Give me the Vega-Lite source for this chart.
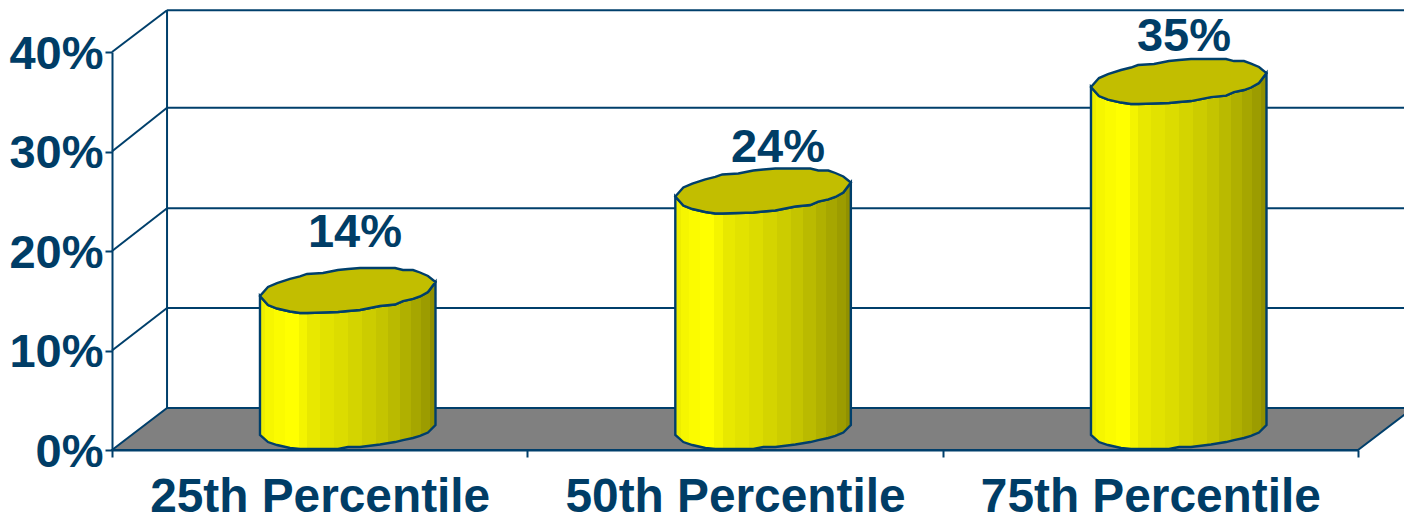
{
  "$schema": "https://vega.github.io/schema/vega-lite/v6.json",
  "width": 1246,
  "height": 398,
  "autosize": "none",
  "padding": {"left": 112, "top": 52, "right": 46, "bottom": 67},
  "background": "white",
  "config": {"view": {"stroke": null}},
  "datasets": {
    "percentiles": [
      {"category": "25th Percentile", "value": 14, "label": "14%", "labelX": 0.585, "labelY": 21.8},
      {"category": "50th Percentile", "value": 24, "label": "24%", "labelX": 1.6035, "labelY": 30.35},
      {"category": "75th Percentile", "value": 35, "label": "35%", "labelX": 2.581, "labelY": 41.5}
    ],
    "floor": [
      {"pos": 0, "back": 0, "front": 0},
      {"pos": 0.1325, "back": 4.22, "front": 0},
      {"pos": 3, "back": 4.22, "front": 0},
      {"pos": 3.1325, "back": 4.22, "front": 4.22}
    ],
    "frame": [
      {"pos": 0.1325, "pos2": 3.1325, "level": 14.27, "level2": 14.27},
      {"pos": 0.1325, "pos2": 3.1325, "level": 24.3, "level2": 24.3},
      {"pos": 0.1325, "pos2": 3.1325, "level": 34.4, "level2": 34.4},
      {"pos": 0.1325, "pos2": 3.1325, "level": 44.2, "level2": 44.2},
      {"pos": 0.1325, "pos2": 0.1325, "level": 4.22, "level2": 44.2},
      {"pos": 0, "pos2": 0.1325, "level": 10, "level2": 14.27},
      {"pos": 0, "pos2": 0.1325, "level": 20, "level2": 24.3},
      {"pos": 0, "pos2": 0.1325, "level": 30, "level2": 34.4},
      {"pos": 0, "pos2": 0.1325, "level": 40, "level2": 44.2}
    ],
    "cylinders": [
      {"category": "25th Percentile", "pos": 0.3563, "base": 1.51, "lower": 15.48, "upper": 15.48},
      {"category": "25th Percentile", "pos": 0.3756, "base": 0.8, "lower": 14.57, "upper": 16.38},
      {"category": "25th Percentile", "pos": 0.3973, "base": 0.5, "lower": 14.22, "upper": 16.78},
      {"category": "25th Percentile", "pos": 0.4286, "base": 0.2, "lower": 13.92, "upper": 17.19},
      {"category": "25th Percentile", "pos": 0.4526, "base": 0.1, "lower": 13.77, "upper": 17.44},
      {"category": "25th Percentile", "pos": 0.4695, "base": 0.1, "lower": 13.77, "upper": 17.69},
      {"category": "25th Percentile", "pos": 0.508, "base": 0.1, "lower": 13.82, "upper": 17.79},
      {"category": "25th Percentile", "pos": 0.5441, "base": 0.1, "lower": 13.87, "upper": 18.09},
      {"category": "25th Percentile", "pos": 0.5682, "base": 0.3, "lower": 13.97, "upper": 18.19},
      {"category": "25th Percentile", "pos": 0.5971, "base": 0.3, "lower": 14.07, "upper": 18.29},
      {"category": "25th Percentile", "pos": 0.6453, "base": 0.55, "lower": 14.47, "upper": 18.29},
      {"category": "25th Percentile", "pos": 0.6814, "base": 0.8, "lower": 14.62, "upper": 18.29},
      {"category": "25th Percentile", "pos": 0.7006, "base": 1.0, "lower": 14.97, "upper": 18.09},
      {"category": "25th Percentile", "pos": 0.7247, "base": 1.21, "lower": 15.18, "upper": 18.09},
      {"category": "25th Percentile", "pos": 0.7416, "base": 1.41, "lower": 15.43, "upper": 17.84},
      {"category": "25th Percentile", "pos": 0.7608, "base": 1.76, "lower": 15.88, "upper": 17.49},
      {"category": "25th Percentile", "pos": 0.7789, "base": 2.51, "lower": 16.88, "upper": 16.88},

      {"category": "50th Percentile", "pos": 1.3563, "base": 1.51, "lower": 25.48, "upper": 25.48},
      {"category": "50th Percentile", "pos": 1.3756, "base": 0.8, "lower": 24.57, "upper": 26.38},
      {"category": "50th Percentile", "pos": 1.3973, "base": 0.5, "lower": 24.22, "upper": 26.78},
      {"category": "50th Percentile", "pos": 1.4286, "base": 0.2, "lower": 23.92, "upper": 27.19},
      {"category": "50th Percentile", "pos": 1.4526, "base": 0.1, "lower": 23.77, "upper": 27.44},
      {"category": "50th Percentile", "pos": 1.4695, "base": 0.1, "lower": 23.77, "upper": 27.69},
      {"category": "50th Percentile", "pos": 1.508, "base": 0.1, "lower": 23.82, "upper": 27.79},
      {"category": "50th Percentile", "pos": 1.5441, "base": 0.1, "lower": 23.87, "upper": 28.09},
      {"category": "50th Percentile", "pos": 1.5682, "base": 0.3, "lower": 23.97, "upper": 28.19},
      {"category": "50th Percentile", "pos": 1.5971, "base": 0.3, "lower": 24.07, "upper": 28.29},
      {"category": "50th Percentile", "pos": 1.6453, "base": 0.55, "lower": 24.47, "upper": 28.29},
      {"category": "50th Percentile", "pos": 1.6814, "base": 0.8, "lower": 24.62, "upper": 28.29},
      {"category": "50th Percentile", "pos": 1.7006, "base": 1.0, "lower": 24.97, "upper": 28.09},
      {"category": "50th Percentile", "pos": 1.7247, "base": 1.21, "lower": 25.18, "upper": 28.09},
      {"category": "50th Percentile", "pos": 1.7416, "base": 1.41, "lower": 25.43, "upper": 27.84},
      {"category": "50th Percentile", "pos": 1.7608, "base": 1.76, "lower": 25.88, "upper": 27.49},
      {"category": "50th Percentile", "pos": 1.7789, "base": 2.51, "lower": 26.88, "upper": 26.88},

      {"category": "75th Percentile", "pos": 2.3571, "base": 1.51, "lower": 36.48, "upper": 36.48},
      {"category": "75th Percentile", "pos": 2.3764, "base": 0.8, "lower": 35.57, "upper": 37.38},
      {"category": "75th Percentile", "pos": 2.3981, "base": 0.5, "lower": 35.22, "upper": 37.78},
      {"category": "75th Percentile", "pos": 2.4294, "base": 0.2, "lower": 34.92, "upper": 38.19},
      {"category": "75th Percentile", "pos": 2.4534, "base": 0.1, "lower": 34.77, "upper": 38.44},
      {"category": "75th Percentile", "pos": 2.4703, "base": 0.1, "lower": 34.77, "upper": 38.69},
      {"category": "75th Percentile", "pos": 2.5088, "base": 0.1, "lower": 34.82, "upper": 38.79},
      {"category": "75th Percentile", "pos": 2.5449, "base": 0.1, "lower": 34.87, "upper": 39.09},
      {"category": "75th Percentile", "pos": 2.569, "base": 0.3, "lower": 34.97, "upper": 39.19},
      {"category": "75th Percentile", "pos": 2.5979, "base": 0.3, "lower": 35.07, "upper": 39.29},
      {"category": "75th Percentile", "pos": 2.6461, "base": 0.55, "lower": 35.47, "upper": 39.29},
      {"category": "75th Percentile", "pos": 2.6822, "base": 0.8, "lower": 35.62, "upper": 39.29},
      {"category": "75th Percentile", "pos": 2.7014, "base": 1.0, "lower": 35.97, "upper": 39.09},
      {"category": "75th Percentile", "pos": 2.7255, "base": 1.21, "lower": 36.18, "upper": 39.09},
      {"category": "75th Percentile", "pos": 2.7424, "base": 1.41, "lower": 36.43, "upper": 38.84},
      {"category": "75th Percentile", "pos": 2.7616, "base": 1.76, "lower": 36.88, "upper": 38.49},
      {"category": "75th Percentile", "pos": 2.7797, "base": 2.51, "lower": 37.88, "upper": 37.88}
    ]
  },
  "resolve": {"scale": {"x": "independent"}},
  "layer": [
    {
      "data": {"name": "percentiles"},
      "mark": {"type": "bar", "opacity": 0},
      "encoding": {
        "x": {
          "field": "category",
          "type": "nominal",
          "sort": null,
          "scale": {"type": "band", "paddingInner": 0, "paddingOuter": 0},
          "axis": {
            "orient": "bottom",
            "title": null,
            "labelAngle": 0,
            "labelLimit": 0,
            "tickBand": "extent",
            "tickSize": 7,
            "tickWidth": 2,
            "tickColor": "#003F6B",
            "domainColor": "#003F6B",
            "domainWidth": 2,
            "labelFont": "Liberation Sans",
            "labelFontWeight": "bold",
            "labelFontSize": 47.8,
            "labelColor": "#003D66",
            "labelPadding": 16,
            "zindex": 1
          }
        },
        "y": {
          "field": "value",
          "type": "quantitative",
          "scale": {"domain": [0, 40], "nice": false},
          "axis": {
            "title": null,
            "grid": false,
            "values": [0, 10, 20, 30, 40],
            "labelExpr": "datum.value + '%'",
            "tickSize": 7,
            "tickWidth": 2,
            "tickColor": "#003F6B",
            "domainColor": "#003F6B",
            "domainWidth": 2,
            "labelFont": "Liberation Sans",
            "labelFontWeight": "bold",
            "labelFontSize": 47,
            "labelColor": "#003D66",
            "labelPadding": 2,
            "labelOffset": 2,
            "zindex": 1
          }
        }
      }
    },
    {
      "data": {"name": "floor"},
      "mark": {"type": "area", "color": "#808080", "stroke": "#003F6B", "strokeWidth": 2},
      "encoding": {
        "x": {"field": "pos", "type": "quantitative", "scale": {"domain": [0, 3], "nice": false}, "axis": null},
        "y": {"field": "back", "type": "quantitative", "title": null},
        "y2": {"field": "front"}
      }
    },
    {
      "data": {"name": "frame"},
      "mark": {"type": "rule", "color": "#003F6B", "strokeWidth": 2},
      "encoding": {
        "x": {"field": "pos", "type": "quantitative", "scale": {"domain": [0, 3], "nice": false}, "axis": null},
        "x2": {"field": "pos2"},
        "y": {"field": "level", "type": "quantitative", "title": null},
        "y2": {"field": "level2"}
      }
    },
    {
      "data": {"name": "cylinders"},
      "mark": {
        "type": "area",
        "stroke": "#003F6B",
        "strokeWidth": 2.4,
        "color": {
          "gradient": "linear",
          "x1": 0, "y1": 0, "x2": 1, "y2": 0,
          "stops": [
            {"offset": 0, "color": "#EEEE00"}, {"offset": 0.03, "color": "#EEEE00"},
            {"offset": 0.03, "color": "#F6F600"}, {"offset": 0.08, "color": "#F6F600"},
            {"offset": 0.08, "color": "#FBFB00"}, {"offset": 0.14, "color": "#FBFB00"},
            {"offset": 0.14, "color": "#FFFF00"}, {"offset": 0.22, "color": "#FFFF00"},
            {"offset": 0.22, "color": "#F4F400"}, {"offset": 0.27, "color": "#F4F400"},
            {"offset": 0.27, "color": "#E8E800"}, {"offset": 0.34, "color": "#E8E800"},
            {"offset": 0.34, "color": "#E2E200"}, {"offset": 0.42, "color": "#E2E200"},
            {"offset": 0.42, "color": "#DCDC00"}, {"offset": 0.5, "color": "#DCDC00"},
            {"offset": 0.5, "color": "#D4D400"}, {"offset": 0.58, "color": "#D4D400"},
            {"offset": 0.58, "color": "#CCCC00"}, {"offset": 0.66, "color": "#CCCC00"},
            {"offset": 0.66, "color": "#C4C400"}, {"offset": 0.73, "color": "#C4C400"},
            {"offset": 0.73, "color": "#BABA00"}, {"offset": 0.8, "color": "#BABA00"},
            {"offset": 0.8, "color": "#B0B000"}, {"offset": 0.86, "color": "#B0B000"},
            {"offset": 0.86, "color": "#A6A600"}, {"offset": 0.92, "color": "#A6A600"},
            {"offset": 0.92, "color": "#9C9C00"}, {"offset": 0.97, "color": "#9C9C00"},
            {"offset": 0.97, "color": "#909000"}, {"offset": 1, "color": "#909000"}
          ]
        }
      },
      "encoding": {
        "x": {"field": "pos", "type": "quantitative", "scale": {"domain": [0, 3], "nice": false}, "axis": null},
        "y": {"field": "lower", "type": "quantitative", "title": null},
        "y2": {"field": "base"},
        "detail": {"field": "category"}
      }
    },
    {
      "data": {"name": "cylinders"},
      "mark": {"type": "area", "color": "#C2BE00", "stroke": "#003F6B", "strokeWidth": 2.4},
      "encoding": {
        "x": {"field": "pos", "type": "quantitative", "scale": {"domain": [0, 3], "nice": false}, "axis": null},
        "y": {"field": "upper", "type": "quantitative", "title": null},
        "y2": {"field": "lower"},
        "detail": {"field": "category"}
      }
    },
    {
      "data": {"name": "percentiles"},
      "mark": {
        "type": "text",
        "font": "Liberation Sans",
        "fontWeight": "bold",
        "fontSize": 47,
        "color": "#003D66",
        "baseline": "middle",
        "align": "center"
      },
      "encoding": {
        "x": {"field": "labelX", "type": "quantitative", "scale": {"domain": [0, 3], "nice": false}, "axis": null},
        "y": {"field": "labelY", "type": "quantitative", "title": null},
        "text": {"field": "label"}
      }
    }
  ]
}
